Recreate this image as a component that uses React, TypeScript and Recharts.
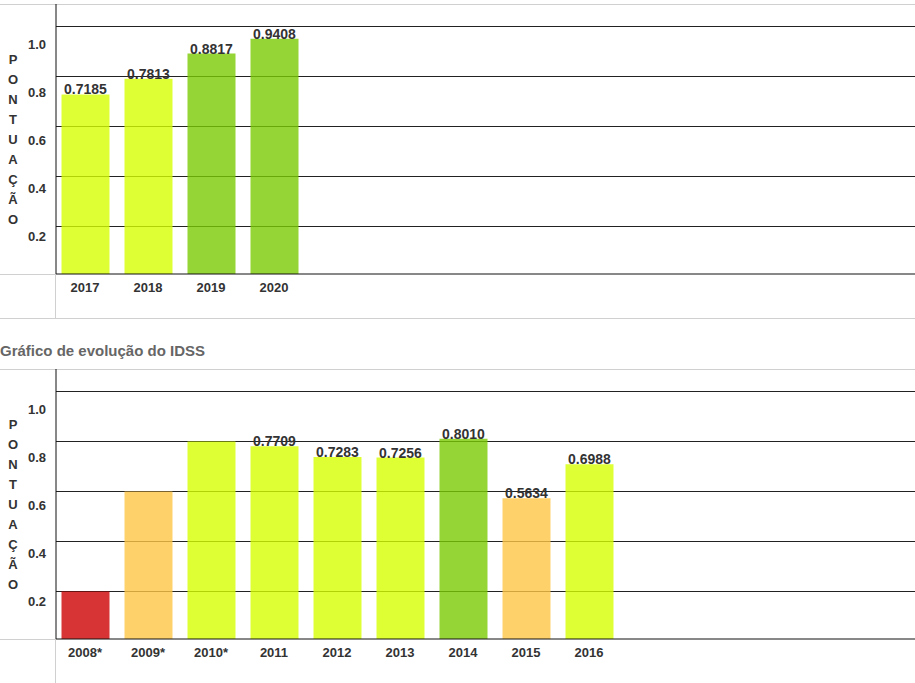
import { Bar, BarChart, CartesianGrid, Cell, LabelList, XAxis, YAxis } from "recharts";

// IDSS scores, current cycle
const idssYears = ["2017", "2018", "2019", "2020"];
const idssScores = [0.7185, 0.7813, 0.8817, 0.9408];
const idssLabels = idssScores.map((s) => s.toFixed(4));

// history chart (years with * have no printed value)
const historyYears = ["2008*", "2009*", "2010*", "2011", "2012", "2013", "2014", "2015", "2016"];
const historyScores = [0.19, 0.59, 0.79, 0.7709, 0.7283, 0.7256, 0.801, 0.5634, 0.6988];
const historyLabels = ["", "", "", "0.7709", "0.7283", "0.7256", "0.8010", "0.5634", "0.6988"];

const scoreTicks = [0.2, 0.4, 0.6, 0.8, 1.0];
const axisLetters = ["P", "O", "N", "T", "U", "A", "Ç", "Ã", "O"];

const FONT = '"Liberation Sans", Arial, Helvetica, sans-serif';
const TEXT = "#333";
const FRAME = "#d0d0d0";
const BAND = 63;
const AXIS_W = 56;
const WIDTH = 915;

// IDSS faixas
function bandColor(v: number) {
  if (v < 0.2) return "#cd0303";
  if (v < 0.6) return "#ffc546";
  if (v < 0.8) return "#d6ff00";
  return "#7aca03";
}

function ScoreTick({ x, y, payload }: any) {
  const v = Number(payload.value);
  return (
    <text x={x} y={y + 15.3 + 9.7 * v} textAnchor="end" fill={TEXT} fontSize={13} fontWeight="bold" fontFamily={FONT}>
      {v.toFixed(1)}
    </text>
  );
}

function YearTick({ x, y, payload }: any) {
  return (
    <text x={x} y={y + 18} textAnchor="middle" fill={TEXT} fontSize={13} fontWeight="bold" fontFamily={FONT}>
      {payload.value}
    </text>
  );
}

function AxisLetters(props: any) {
  const top = props?.viewBox?.y ?? 0;
  return (
    <text x={13} y={top + 60} textAnchor="middle" fill={TEXT} fontSize={13} fontWeight="bold" fontFamily={FONT}>
      {axisLetters.map((c, i) => (
        <tspan key={i} x={13} dy={i === 0 ? 0 : 20}>
          {c}
        </tspan>
      ))}
    </text>
  );
}

const gridLine = (p: any) => (
  <line key={`grid-${p.index}`} x1={p.x1} x2={p.x2} y1={p.y1 + 2.5} y2={p.y2 + 2.5} stroke="#222" strokeWidth={1} />
);

function ScoreChart({ years, scores, labels }: { years: string[]; scores: number[]; labels: string[] }) {
  const rows = years.map((year, i) => ({ year, score: scores[i], label: labels[i] }));
  const rightPad = WIDTH - AXIS_W + 2.5 - years.length * BAND;
  return (
    <BarChart width={WIDTH} height={314} data={rows} margin={{ top: 0, right: 0, bottom: 0, left: 0 }}>
      <CartesianGrid vertical={false} horizontal={gridLine} syncWithTicks />
      <XAxis
        dataKey="year"
        height={44}
        tickLine={false}
        tickSize={0}
        tickMargin={0}
        axisLine={{ stroke: "#111" }}
        tick={<YearTick />}
        padding={{ left: -2.5, right: rightPad }}
        interval={0}
      />
      <YAxis
        width={AXIS_W}
        domain={[0, 1.08]}
        ticks={scoreTicks}
        tickLine={false}
        tickSize={0}
        tickMargin={10}
        axisLine={{ stroke: "#111" }}
        tick={<ScoreTick />}
        label={{ content: (p: any) => <AxisLetters {...p} /> }}
      />
      <Bar dataKey="score" barSize={48} fillOpacity={0.8} isAnimationActive={false}>
        {rows.map((r, i) => (
          <Cell key={i} fill={bandColor(r.score)} />
        ))}
        <LabelList dataKey="label" position="top" offset={0} fill={TEXT} fontSize={14} fontWeight="bold" fontFamily={FONT} />
      </Bar>
    </BarChart>
  );
}

const hLine = (top: number, left: number, width: number) => (
  <div style={{ position: "absolute", top, left, width, height: 1, background: FRAME }} />
);
const vLine = (top: number, left: number, height: number) => (
  <div style={{ position: "absolute", top, left, width: 1, height, background: FRAME }} />
);

export default function App() {
  return (
    <div style={{ position: "absolute", left: 0, top: 0, width: WIDTH, height: 683, background: "#fff", fontFamily: FONT, overflow: "hidden" }}>
      {hLine(4, 0, WIDTH)}
      {hLine(274, 0, AXIS_W)}
      {vLine(274, 55, 44)}
      {hLine(318, 0, WIDTH)}
      <div style={{ position: "absolute", top: 4, left: 0 }}>
        <ScoreChart years={idssYears} scores={idssScores} labels={idssLabels} />
      </div>

      <div style={{ position: "absolute", top: 343, left: 0, fontSize: 15, lineHeight: "15px", fontWeight: "bold", color: "#666", whiteSpace: "nowrap" }}>
        Gráfico de evolução do IDSS
      </div>

      {hLine(369, 0, WIDTH)}
      {hLine(639, 0, AXIS_W)}
      {vLine(639, 55, 44)}
      <div style={{ position: "absolute", top: 369, left: 0 }}>
        <ScoreChart years={historyYears} scores={historyScores} labels={historyLabels} />
      </div>
    </div>
  );
}
